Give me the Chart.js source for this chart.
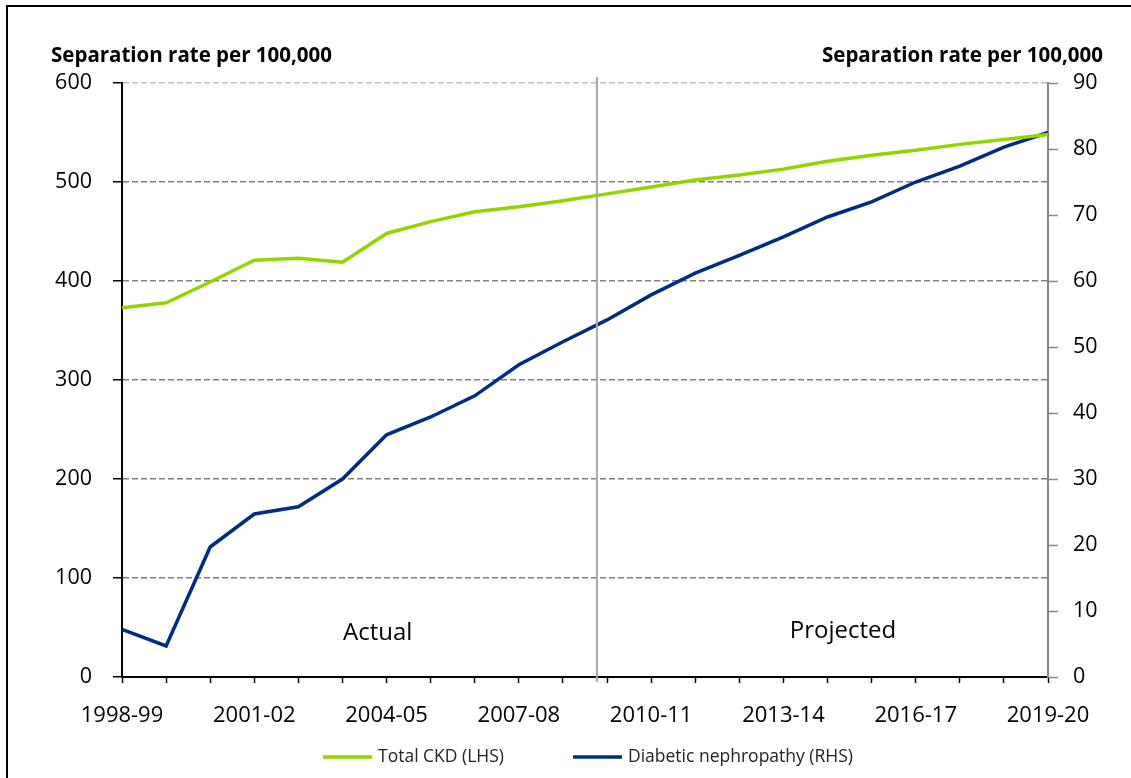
<!DOCTYPE html>
<html>
<head>
<meta charset="utf-8">
<script src="https://cdn.jsdelivr.net/npm/chart.js@4.4.1/dist/chart.umd.min.js"></script>
<style>
  html, body { margin: 0; padding: 0; background: #fff; overflow: hidden; }
  #frame { position: absolute; left: 6px; top: 5px; width: 1300px; height: 900px; border: 2px solid #000; }
  #wrap { position: absolute; left: 0; top: 0; width: 1131px; height: 778px; }
</style>
</head>
<body>
<div id="frame"></div>
<div id="wrap"><canvas id="chart" width="1131" height="778"></canvas></div>
<script>
const years = ['1998-99', '1999-00', '2000-01', '2001-02', '2002-03', '2003-04', '2004-05', '2005-06',
  '2006-07', '2007-08', '2008-09', '2009-10', '2010-11', '2011-12', '2012-13', '2013-14',
  '2014-15', '2015-16', '2016-17', '2017-18', '2018-19', '2019-20'];
const totalCkd = [373, 378, 399, 421, 423, 419, 448, 460, 470, 475, 481, 488, 495, 502, 507, 513, 521, 527, 532, 538, 543, 548];
const diabetic = [7.2, 4.7, 19.7, 24.7, 25.8, 30.0, 36.7, 39.4, 42.6, 47.3, 50.8, 54.1, 57.9, 61.2, 63.9, 66.7, 69.7, 72.0, 75.0, 77.4, 80.3, 82.5];
const seriesNames = ['Total CKD (LHS)', 'Diabetic nephropathy (RHS)'];
const axisTitle = 'Separation rate per 100,000';
const leftRange = [0, 600, 100];
const rightRange = [0, 90, 10];
const projectionStart = 10.77; // position on the category axis where projections begin

const FONT = "'Open Sans', sans-serif";

// axis titles, divider, Actual/Projected labels and legend
const extras = {
  id: 'extras',
  afterDatasetsDraw(chart) {
    const {ctx, chartArea, scales} = chart;
    const x = scales.x, y = scales.y;
    ctx.save();
    // divider between actual and projected
    const px = x.getPixelForValue(projectionStart);
    ctx.strokeStyle = '#a6a6a6';
    ctx.lineWidth = 2;
    ctx.beginPath();
    ctx.moveTo(px, chartArea.top - 6);
    ctx.lineTo(px, chartArea.bottom + 5);
    ctx.stroke();

    ctx.fillStyle = '#000';
    ctx.font = '24px ' + FONT;
    ctx.textAlign = 'center';
    ctx.textBaseline = 'middle';
    ctx.fillText('Actual', x.getPixelForValue(5.8), y.getPixelForValue(44));
    ctx.fillText('Projected', x.getPixelForValue(16.35), y.getPixelForValue(46));

    ctx.font = 'bold 20.5px ' + FONT;
    ctx.textAlign = 'left';
    ctx.fillText(axisTitle, chartArea.left - 71, chartArea.top - 27);
    ctx.textAlign = 'right';
    ctx.fillText(axisTitle, chartArea.right + 55, chartArea.top - 27);

    // legend
    ctx.font = '17.5px ' + FONT;
    ctx.textAlign = 'left';
    const ly = 757;
    const starts = [323, 573];
    chart.data.datasets.forEach((ds, i) => {
      ctx.strokeStyle = ds.borderColor;
      ctx.lineWidth = 3.5;
      ctx.beginPath();
      ctx.moveTo(starts[i], ly);
      ctx.lineTo(starts[i] + 49, ly);
      ctx.stroke();
      ctx.fillStyle = '#222';
      ctx.fillText(ds.label, starts[i] + 55, ly);
    });
    ctx.restore();
  }
};

new Chart(document.getElementById('chart'), {
  type: 'line',
  data: {
    labels: years,
    datasets: [{
      label: seriesNames[0],
      data: totalCkd,
      yAxisID: 'y',
      borderColor: '#92d400',
      borderWidth: 3.5,
      pointRadius: 0,
      tension: 0
    }, {
      label: seriesNames[1],
      data: diabetic,
      yAxisID: 'y2',
      borderColor: '#002d80',
      borderWidth: 3.5,
      pointRadius: 0,
      tension: 0
    }]
  },
  options: {
    responsive: false,
    animation: false,
    layout: { padding: { top: 83, left: 0, right: 0, bottom: 0 } },
    plugins: {
      legend: { display: false },
      tooltip: { enabled: false }
    },
    scales: {
      x: {
        offset: false,
        afterFit: (s) => { s.height = 778 - 677; },
        grid: { drawOnChartArea: false, drawTicks: true, tickLength: 6, tickColor: '#000', tickWidth: 1.5 },
        border: { color: '#000', width: 2 },
        ticks: {
          autoSkip: false,
          maxRotation: 0,
          padding: 20,
          color: '#000',
          font: { family: FONT, size: 22 },
          callback: (v, i) => (i % 3 === 0 ? years[i] : '')
        }
      },
      y: {
        position: 'left',
        min: leftRange[0],
        max: leftRange[1],
        afterFit: (s) => { s.width = 122; },
        grid: {
          color: (c) => (c.tick && c.tick.value === leftRange[1] ? '#c0c0c0' : '#808080'),
          lineWidth: 1.5, tickLength: 9, tickColor: '#000', tickWidth: 1.5, tickBorderDash: []
        },
        border: { color: '#000', width: 2, dash: [6, 3] },
        ticks: { stepSize: leftRange[2], padding: 21, color: '#000', font: { family: FONT, size: 21.5 } }
      },
      y2: {
        position: 'right',
        min: rightRange[0],
        max: rightRange[1],
        afterFit: (s) => { s.width = 1131 - 1048; },
        grid: { drawOnChartArea: false, tickLength: 10, tickColor: '#868686', tickWidth: 1.5 },
        border: { color: '#868686', width: 2 },
        ticks: { stepSize: rightRange[2], padding: 15, color: '#000', font: { family: FONT, size: 21.5 } }
      }
    }
  },
  plugins: [extras]
});
</script>
</body>
</html>
